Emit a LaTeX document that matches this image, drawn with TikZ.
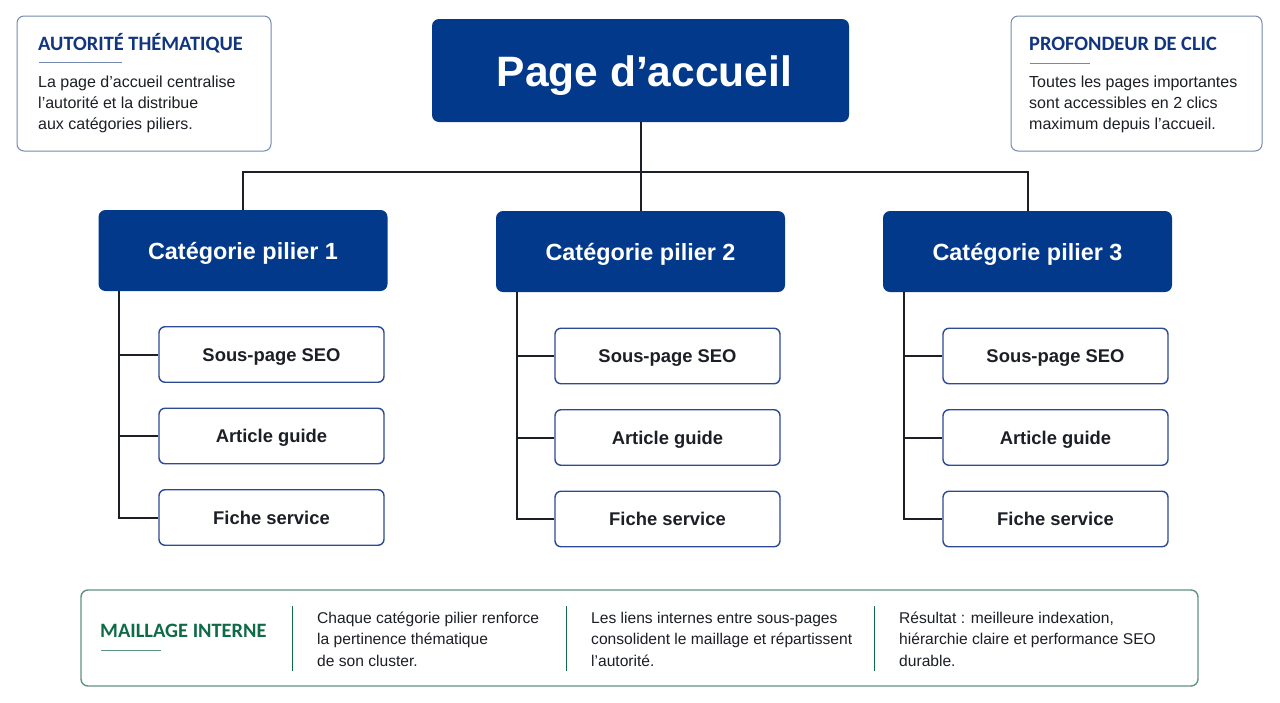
\documentclass[tikz,border=0pt]{standalone}
\usepackage{fontspec}
\setmainfont{Liberation Sans}
\newfontfamily\headfont{Carlito}
\usetikzlibrary{calc}
\definecolor{navy}{HTML}{03398A}
\definecolor{subline}{HTML}{2F4A94}
\definecolor{noteline}{HTML}{7488B0}
\definecolor{headblue}{HTML}{12357F}
\definecolor{leaf}{HTML}{0F6B45}
\definecolor{leafline}{HTML}{5F9480}
\definecolor{ink}{HTML}{1C1F26}
\tikzset{
  catbox/.style={rectangle,rounded corners=7pt,fill=navy,text=white,inner sep=0pt,
    minimum width=289pt,minimum height=81pt,text height=17pt,text depth=0pt,
    font=\fontsize{23.4}{28}\selectfont\bfseries},
  homebox/.style={catbox,minimum width=417pt,minimum height=103pt,text height=32pt,
    font=\fontsize{42.5}{50}\selectfont\bfseries},
  subbox/.style={rectangle,rounded corners=6pt,draw=subline,line width=1.4pt,fill=white,text=ink,inner sep=0pt,
    minimum width=225pt,minimum height=55.5pt,text height=13pt,text depth=0pt,
    font=\fontsize{18.4}{24}\selectfont\bfseries},
  notebox/.style={rectangle,rounded corners=7pt,draw=noteline,line width=1pt,fill=white,inner sep=0pt,
    minimum height=135pt},
  notehead/.style={anchor=base west,inner sep=0pt,text=headblue,font=\headfont\fontsize{20.4}{24}\selectfont\bfseries},
  notetext/.style={anchor=north west,inner sep=0pt,align=left,text=ink,font=\fontsize{16}{21.3}\selectfont},
  meshtext/.style={notetext,font=\fontsize{15.6}{21.3}\selectfont},
  link/.style={draw=ink,line width=2pt}
}
\begin{document}
\begin{tikzpicture}[x=1pt,y=-1pt]
  \useasboundingbox (0,0) rectangle (1280,702);
  % top
  \node [homebox] (home) at (640.5,70.5) {\hspace*{8pt}Page d’accueil};
  \coordinate (bus) at (640.5,171.5);
  % categories and their pages
  \foreach \c/\cx/\cy/\tx/\sx/\sy in {1/243/250.5/119/271.5/354.5,2/640.5/251.5/517/667.5/356,3/1027.5/251.5/904/1055.5/356} {
    \node [catbox] (cat\c) at (\cx,\cy) {Catégorie pilier \c};
    \node [subbox] (sub\c a) at (\sx,\sy) {Sous-page SEO};
    \node [subbox] (sub\c b) at (\sx,\sy+81.5) {Article guide};
    \node [subbox] (sub\c c) at (\sx,\sy+163) {Fiche service};
    \coordinate (trunk\c) at (\tx,\cy+40.5);
    \draw [link] (trunk\c) |- (sub\c c.west);
    \draw [link] (trunk\c |- sub\c a.west) -- (sub\c a.west);
    \draw [link] (trunk\c |- sub\c b.west) -- (sub\c b.west);
  }
  % edges
  \draw [link] (home.south) -- (cat2.north);
  \draw [link] (cat1.north) |- (bus) -| (cat3.north);
  % left note
  \node [notebox,minimum width=254pt] (noteL) at (144,83.5) {};
  \node [notehead] (noteLhead) at (38,50) {AUTORITÉ THÉMATIQUE};
  \coordinate (ruleL) at (38.5,62.5);
  \draw [noteline,line width=1pt] (ruleL) -- +(83,0);
  \node [notetext] (noteLtext) at (38,75.5) {La page d’accueil centralise\\l’autorité et la distribue\\aux catégories piliers.};
  % right note
  \node [notebox,minimum width=251pt] (noteR) at (1136.5,83.5) {};
  \node [notehead] (noteRhead) at (1029,50.5) {PROFONDEUR DE CLIC};
  \coordinate (ruleR) at (1029.5,63.5);
  \draw [noteline,line width=1pt] (ruleR) -- +(60,0);
  \node [notetext] (noteRtext) at (1029,75.5) {Toutes les pages importantes\\sont accessibles en 2 clics\\maximum depuis l’accueil.};
  % bottom band
  \node [notebox,draw=leafline,line width=1.4pt,minimum width=1117pt,minimum height=96pt] (mesh) at (639.5,638) {};
  \node [notehead,text=leaf] (meshhead) at (100,637.5) {MAILLAGE INTERNE};
  \coordinate (ruleM) at (100.5,650.5);
  \draw [leafline,line width=1pt] (ruleM) -- +(60,0);
  \foreach \x in {292,566,874} {
    \coordinate (divtop\x) at (\x,606);
    \draw [leaf,line width=1pt] (divtop\x) -- +(0,65);
  }
  \node [meshtext] (meshA) at (317,612) {Chaque catégorie pilier renforce\\la pertinence thématique\\de son cluster.};
  \node [meshtext] (meshB) at (591,612) {Les liens internes entre sous-pages\\consolident le maillage et répartissent\\l’autorité.};
  \node [meshtext] (meshC) at (899,612) {Résultat : meilleure indexation,\\hiérarchie claire et performance SEO\\durable.};
\end{tikzpicture}
\end{document}
